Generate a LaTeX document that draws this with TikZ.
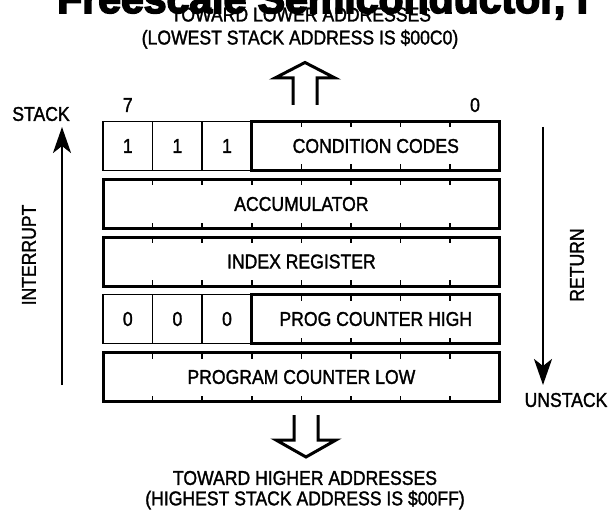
\documentclass[tikz,border=0pt]{standalone}
\usepackage{fontspec}
\setmainfont{Liberation Sans}[FakeStretch=0.88,FakeBold=1.5]
\newfontfamily\hdrfont{Liberation Sans}[FakeBold=4]
\usetikzlibrary{calc,arrows.meta}
\tikzset{
  lbl/.style={inner sep=0pt, outer sep=0pt, font=\fontsize{20}{24}\selectfont},
  thickreg/.style={lbl, draw, line width=3pt, minimum height=49pt},
  thinbit/.style={lbl, draw, line width=1.6pt, minimum height=49pt, minimum width=49.6pt},
  tickmark/.style={line width=1.6pt},
  hollow/.style={line width=3pt, miter limit=10},
  bigarrow/.style={line width=2.6pt, -{Stealth[length=26pt,width=18pt,inset=7pt]}}
}
\begin{document}
\begin{tikzpicture}[x=1pt,y=-1pt]
\useasboundingbox (0,0) rectangle (608,516);
\clip (0,0) rectangle (608,516);
\fill[white] (0,0) rectangle (608,516);

% clipped header
\node[anchor=base west, inner sep=0pt] (hdr) at (57,13) {\hdrfont\bfseries\fontsize{41}{45}\selectfont Freescale Semiconductor, I};

% top texts
\node[lbl, anchor=base] (top1) at (301,21.5) {TOWARD LOWER ADDRESSES};
\node[lbl, anchor=base] (top2) at (300,44.5) {(LOWEST STACK ADDRESS IS \$00C0)};

% bit numbers
\node[lbl] (b7) at (127.8,105) {7};
\node[lbl] (b0) at (475,105) {0};

% row 1
\node[thinbit] (r1a) at (127.8,146) {1};
\node[thinbit] (r1b) at (177.4,146) {1};
\node[thinbit] (r1c) at (227,146) {1};
\node[thickreg, minimum width=248pt] (ccr) at (375.8,146) {CONDITION CODES};
% row 2
\node[thickreg, minimum width=396.8pt] (acc) at (301.4,204) {ACCUMULATOR};
% row 3
\node[thickreg, minimum width=396.8pt] (idx) at (301.4,261.5) {INDEX REGISTER};
% row 4
\node[thinbit] (r4a) at (127.8,319) {0};
\node[thinbit] (r4b) at (177.4,319) {0};
\node[thinbit] (r4c) at (227,319) {0};
\node[thickreg, minimum width=248pt] (pch) at (375.8,319) {PROG COUNTER HIGH};
% row 5
\node[thickreg, minimum width=396.8pt] (pcl) at (301.4,377) {PROGRAM COUNTER LOW};

% tick marks
\foreach \n in {acc,idx,pcl}{
  \foreach \k in {1,...,7}{
    \draw[tickmark] ($(\n.north west)+(\k*49.6,0)$) -- ++(0,6);
    \draw[tickmark] ($(\n.south west)+(\k*49.6,0)$) -- ++(0,-6);
  }
}
\foreach \n in {ccr,pch}{
  \foreach \k in {1,...,4}{
    \draw[tickmark] ($(\n.north west)+(\k*49.6,0)$) -- ++(0,6);
    \draw[tickmark] ($(\n.south west)+(\k*49.6,0)$) -- ++(0,-6);
  }
}

% hollow arrows
\draw[hollow] (293,105) -- (293,78) -- (275,78) -- (305,62.5) -- (335,78) -- (317,78) -- (317,105);
\draw[hollow] (294,415) -- (294,440) -- (276,440) -- (306,457) -- (336,440) -- (318,440) -- (318,415);

% side arrows
\coordinate (ls) at (62,385);
\coordinate (le) at (62,127);
\draw[bigarrow] (ls) -- (le);
\coordinate (rs) at (543,127);
\coordinate (re) at (543,385);
\draw[bigarrow] (rs) -- (re);

\node[lbl] (stack) at (41,114) {STACK};
\node[lbl, rotate=90] (intr) at (29,255) {INTERRUPT};
\node[lbl, rotate=90] (ret) at (577,265) {RETURN};
\node[lbl] (unstack) at (566,400) {UNSTACK};

% bottom texts
\node[lbl] (bot1) at (305,478) {TOWARD HIGHER ADDRESSES};
\node[lbl] (bot2) at (305,500) {(HIGHEST STACK ADDRESS IS \$00FF)};
\end{tikzpicture}
\end{document}
